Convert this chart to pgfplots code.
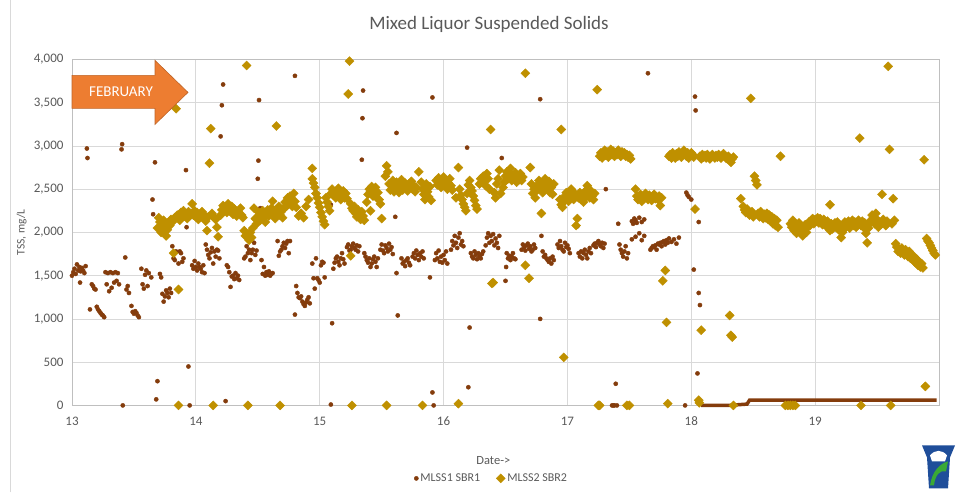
\documentclass[border=0pt]{standalone}
\usepackage{pgfplots}
\pgfplotsset{compat=1.18}
\usepackage{fontspec}
\setmainfont{Carlito}
\definecolor{sbrone}{HTML}{843C0C}
\definecolor{sbrtwo}{HTML}{BF9000}
\definecolor{txtgray}{HTML}{595959}
\definecolor{gridgray}{HTML}{D9D9D9}
\definecolor{framegray}{HTML}{BFBFBF}
\definecolor{arroworange}{HTML}{ED7D31}
\definecolor{logoblue}{HTML}{1F4E9A}
\definecolor{logogreen}{HTML}{3AA935}

\begin{document}
\begin{tikzpicture}[x=1pt,y=1pt]
\path (-72,-87) rectangle (888,405);
\draw[gridgray, line width=0.8pt] (-62,-87) -- (-62,405);
\begin{axis}[
    at={(0,0)}, anchor=south west,
    scale only axis,
    width=867pt, height=346pt,
    xmin=13, xmax=20, ymin=0, ymax=4000,
    xtick={13,...,19},
    ytick={0,500,...,4000},
    major tick length=0pt,
    grid=major,
    major grid style={gridgray, line width=0.8pt},
    axis line style={framegray, line width=0.8pt},
    clip=false,
    ticklabel style={font=\fontsize{13}{15}\selectfont, text=txtgray},
    /pgf/number format/.cd, 1000 sep={,}, assume math mode=true, /pgfplots/.cd,
    yticklabel style={xshift=-5pt},
    xticklabel style={yshift=-8pt},
    title={Mixed Liquor Suspended Solids},
    title style={font=\fontsize{19}{22}\selectfont, text=txtgray, at={(axis description cs:0.481,1)}, anchor=center, yshift=29pt},
    xlabel={Date->},
    xlabel style={font=\fontsize{12.5}{14}\selectfont, text=txtgray, at={(axis description cs:0.486,0)}, anchor=center, yshift=-55pt},
    ylabel={TSS, mg/L},
    ylabel style={font=\fontsize{11.5}{13}\selectfont, text=txtgray, at={(axis description cs:-0.058,0.5)}, anchor=center},
    legend columns=2,
    legend style={at={(axis description cs:0.484,0)}, anchor=center, yshift=-73pt, draw=none, fill=none,
        font=\fontsize{12}{14}\selectfont, text=txtgray,
        /tikz/every even column/.append style={column sep=14pt}},
]
\addplot[only marks, mark=*, mark size=2.1pt, color=sbrone] coordinates {
(13.00,1500)(13.01,1540)(13.02,1580)(13.03,1520)(13.04,1630)(13.05,1560)(13.06,1600)(13.065,1420)(13.07,1550)(13.08,1590)(13.09,1560)(13.10,1530)(13.11,1610)(13.12,2970)(13.125,2860)
(13.145,1110)(13.16,1400)(13.17,1380)(13.18,1350)(13.19,1340)
(13.2,1140)(13.21,1110)(13.22,1090)(13.23,1070)(13.24,1050)(13.25,1040)(13.26,1020)
(13.27,1540)(13.29,1530)(13.31,1540)(13.33,1530)(13.35,1540)(13.37,1530)
(13.28,1400)(13.30,1320)(13.32,1360)(13.34,1420)(13.36,1440)(13.38,1400)
(13.405,3020)(13.40,2960)(13.41,0)(13.43,1710)
(13.44,1340)(13.45,1380)(13.46,1300)
(13.48,1150)(13.49,1080)(13.50,1060)(13.51,1090)(13.52,1070)(13.53,1040)(13.54,1020)
(13.56,1580)(13.57,1400)(13.58,1350)(13.59,1510)(13.60,1560)(13.61,1380)(13.62,1530)(13.64,1480)
(13.65,2380)(13.655,2210)(13.67,2810)(13.68,70)(13.69,280)
(13.71,1520)(13.72,1480)(13.73,1290)(13.74,1200)(13.75,1260)(13.76,1330)(13.77,1300)(13.78,1250)(13.79,1350)(13.80,1300)
(13.81,1840)(13.82,1700)(13.83,1680)(13.84,1780)(13.86,1640)(13.87,1780)(13.88,1760)(13.89,1660)(13.90,1700)
(13.92,2720)(13.925,2060)(13.94,450)(13.95,0)
(13.97,1620)(13.98,1580)(13.99,1670)(14.00,1600)(14.01,1560)(14.02,1640)(14.03,1600)(14.04,1580)(14.05,1540)(14.06,1620)(14.07,1530)
(14.08,1860)(14.09,1800)(14.10,1740)(14.11,1700)(14.12,1770)(14.13,1820)(14.14,1640)(14.15,1780)(14.16,1720)(14.17,1800)(14.18,1790)(14.19,1700)
(14.20,3110)(14.21,3470)(14.22,3710)(14.24,50)
(14.25,1620)(14.26,1600)(14.27,1540)(14.28,1370)(14.29,1490)(14.30,1500)(14.31,1460)(14.32,1530)(14.33,1470)(14.34,1500)(14.35,1450)
(14.39,1700)(14.40,1720)(14.41,1840)(14.42,1760)(14.43,1800)(14.44,1680)(14.45,1760)(14.46,1800)(14.47,1880)(14.48,1740)(14.49,1790)
(14.51,3530)(14.505,2830)(14.50,2620)(14.52,2280)
(14.53,1680)(14.54,1520)(14.55,1600)(14.56,1500)(14.57,1540)(14.58,1510)(14.59,1550)(14.60,1500)(14.61,1520)(14.62,1530)
(14.66,1900)(14.67,1730)(14.68,1780)(14.69,1800)(14.70,1840)(14.71,1880)(14.72,1820)(14.73,1870)(14.74,1900)(14.75,1760)(14.76,1900)
(14.80,3810)(14.80,1050)
(14.81,1380)(14.82,1300)(14.83,1250)(14.84,1240)(14.85,1260)(14.86,1200)(14.87,1170)(14.88,1150)(14.89,1190)(14.90,1220)(14.91,1250)(14.92,1180)
(14.94,1640)(14.95,1470)(14.96,1350)(14.97,1700)(14.98,1470)(14.99,1450)(15.00,1420)(15.01,1620)(15.02,1660)(15.03,1650)(15.04,1480)
(15.09,2320)(15.09,10)(15.10,950)
(15.11,1580)(15.12,1650)(15.13,1700)(15.14,1720)(15.15,1660)(15.16,1620)(15.17,1700)(15.18,1760)(15.19,1690)(15.20,1640)
(15.22,1830)(15.23,1860)(15.24,1790)(15.25,1800)(15.26,1840)(15.27,1870)(15.28,1820)(15.29,1800)(15.30,1850)(15.31,1780)(15.32,1840)
(15.35,3640)(15.345,3320)(15.34,2840)
(15.36,1760)(15.37,1720)(15.38,1680)(15.39,1650)(15.40,1700)(15.41,1600)(15.42,1640)(15.43,1690)(15.44,1720)(15.45,1660)(15.46,1600)(15.47,1700)
(15.49,1800)(15.50,1860)(15.51,1790)(15.52,1760)(15.53,1850)(15.54,1820)(15.55,1780)(15.56,1870)(15.57,1800)(15.58,1830)(15.59,1750)
(15.61,2180)(15.62,3150)(15.62,1530)(15.63,1040)
(15.66,1700)(15.67,1640)(15.68,1660)(15.69,1610)(15.70,1680)(15.71,1700)(15.72,1650)(15.73,1620)
(15.75,1720)(15.76,1760)(15.77,1700)(15.78,1790)(15.79,1740)(15.80,1680)(15.81,1760)(15.82,1720)(15.83,1780)(15.84,1700)
(15.89,1480)(15.91,3560)(15.91,150)(15.92,0)
(15.93,1680)(15.94,1760)(15.95,1700)(15.96,1790)(15.97,1660)(15.98,1720)(15.99,1650)(16.00,1740)(16.01,1680)(16.02,1780)(16.03,1640)
(16.06,1800)(16.07,1900)(16.08,1850)(16.09,1960)(16.10,1880)(16.11,1820)(16.12,1940)(16.13,1990)(16.14,1860)(16.15,1900)(16.16,1840)
(16.19,2980)(16.20,210)(16.21,900)
(16.22,1760)(16.23,1720)(16.24,1700)(16.25,1780)(16.26,1740)(16.27,1690)(16.28,1760)(16.29,1720)(16.30,1700)(16.31,1750)(16.32,1780)
(16.34,1850)(16.35,1940)(16.36,1990)(16.37,1880)(16.38,1960)(16.39,1900)(16.40,1980)(16.41,1850)(16.42,1930)(16.43,1880)(16.44,1820)(16.45,1960)
(16.47,2860)(16.50,1440)(16.505,1600)
(16.51,1760)(16.52,1700)(16.53,1730)(16.54,1680)(16.55,1720)(16.56,1760)(16.57,1700)(16.58,1690)
(16.63,1800)(16.64,1860)(16.65,1830)(16.66,1790)(16.67,1850)(16.68,1870)(16.69,1810)(16.70,1840)(16.71,1780)(16.72,1800)(16.73,1860)(16.74,1820)
(16.78,3540)(16.78,1000)(16.79,1960)
(16.80,1780)(16.81,1720)(16.82,1740)(16.83,1700)(16.84,1680)(16.85,1660)(16.86,1700)(16.87,1640)(16.88,1720)(16.89,1680)
(16.92,1860)(16.93,1820)(16.94,1900)(16.95,1840)(16.96,1800)(16.97,1780)(16.98,1880)(16.99,1830)(17.00,1850)(17.01,1810)(17.02,1760)
(17.08,2070)
(17.09,1760)(17.10,1720)(17.11,1780)(17.12,1700)(17.13,1760)(17.14,1800)(17.15,1740)(17.16,1700)(17.17,1780)(17.18,1820)(17.19,1760)
(17.21,1850)(17.22,1870)(17.23,1830)(17.24,1880)(17.25,1900)(17.26,1860)(17.27,1840)(17.28,1880)(17.29,1820)(17.30,1870)
(17.31,2500)(17.36,0)(17.37,0)(17.38,0)(17.39,250)(17.40,0)(17.41,2100)
(17.42,1860)(17.43,1800)(17.44,1760)(17.45,1720)(17.46,1780)(17.47,1840)(17.48,1700)(17.49,1760)
(17.52,2130)(17.53,2100)(17.54,2160)(17.55,2140)(17.56,2110)(17.58,2170)(17.60,2120)(17.62,2150)
(17.52,1920)(17.55,1950)(17.58,1990)(17.60,1910)(17.62,1960)
(17.65,3840)
(17.67,1800)(17.68,1820)(17.69,1840)(17.70,1830)(17.71,1850)(17.72,1800)(17.73,1870)(17.74,1860)(17.75,1880)(17.76,1840)(17.77,1890)(17.78,1900)(17.79,1860)(17.80,1910)(17.81,1880)(17.82,1930)(17.84,1890)(17.86,1920)(17.88,1870)(17.90,1940)
(17.95,0)(17.96,2460)(17.97,2430)(17.98,2410)(18.00,2380)
(18.02,1570)(18.03,3570)(18.035,3410)(18.05,370)(18.06,2120)(18.06,1300)(18.07,1160)
};
\addlegendentry{MLSS1 SBR1}
\addplot[forget plot, sbrone, line width=3.5pt] coordinates {
(18.08,0)(18.30,0)(18.38,8)(18.45,15)(18.47,60)(19.98,60)
};
\addplot[only marks, mark=square*, mark size=3.2pt, mark options={rotate=45}, color=sbrtwo] coordinates {
(13.69,2050)(13.70,2170)(13.71,2120)(13.72,2000)(13.73,2080)(13.74,2140)(13.75,2060)(13.76,1960)(13.77,2030)(13.78,2100)(13.79,2080)(13.80,2150)(13.81,2120)
(13.82,1760)(13.84,3430)(13.86,1340)(13.86,0)
(13.83,2170)(13.85,2200)(13.87,2140)(13.88,2230)(13.89,2180)(13.90,2250)(13.91,2190)(13.92,2210)(13.93,2160)(13.94,2240)(13.95,2190)(13.96,2220)(13.97,2330)(13.98,2200)(13.99,2250)(14.00,2180)(14.01,2230)(14.02,2150)(14.03,2210)(14.04,2190)(14.05,2240)(14.06,2170)(14.07,2200)(14.08,2130)(14.09,2020)(14.10,2180)(14.11,2800)(14.12,3200)(14.13,2220)(14.14,0)(14.15,2170)(14.16,2150)(14.17,2060)(14.18,1950)
(14.20,2200)(14.21,2260)(14.22,2310)(14.23,2250)(14.24,2290)(14.25,2230)(14.26,2330)(14.27,2280)(14.28,2240)(14.29,2300)(14.30,2210)(14.31,2270)(14.32,2250)(14.33,2190)(14.34,2240)(14.35,2220)(14.36,2280)(14.37,2200)(14.38,2170)
(14.39,2020)(14.40,1960)(14.41,3930)(14.42,0)(14.43,1910)(14.44,2000)(14.45,1940)(14.46,2050)(14.47,2280)(14.48,2160)(14.49,2100)(14.50,2180)(14.51,2230)(14.52,2140)(14.53,2200)(14.54,2250)(14.55,2170)(14.56,2120)(14.57,2210)(14.58,2260)(14.59,2190)(14.60,2230)(14.61,2280)(14.62,2360)(14.63,2220)(14.64,2160)(14.65,3230)(14.66,2250)(14.67,2300)(14.68,0)(14.68,2200)(14.69,2240)(14.70,2170)(14.71,2280)
(14.72,2350)(14.73,2300)(14.74,2400)(14.75,2330)(14.76,2420)(14.77,2380)(14.78,2300)(14.79,2450)(14.80,2360)(14.81,2290)
(14.83,2190)(14.85,2220)(14.87,2170)(14.89,2300)(14.91,2380)
(14.94,2740)(14.94,2620)(14.95,2570)(14.96,2520)(14.97,2450)(14.98,2400)(14.99,2340)(15.00,2290)(15.01,2230)(15.02,2180)(15.03,2130)(15.04,2090)(15.05,2400)(15.06,2350)(15.07,2300)(15.08,2250)
(15.09,2450)(15.10,2500)(15.11,2430)(15.12,2470)(15.13,2400)(15.14,2440)(15.15,2510)(15.16,2460)(15.17,2380)(15.18,2420)(15.19,2480)(15.20,2400)(15.21,2450)(15.22,2390)(15.23,3600)(15.24,3980)(15.25,1730)(15.26,0)
(15.25,2330)(15.26,2280)(15.27,2250)(15.28,2300)(15.29,2220)(15.30,2180)(15.31,2260)(15.32,2200)(15.33,2150)(15.34,2240)(15.35,2190)(15.36,2140)
(15.38,2350)(15.39,2440)(15.40,2500)(15.41,2470)(15.42,2530)(15.43,2420)(15.44,2480)(15.45,2520)(15.46,2400)(15.47,2460)(15.48,2380)(15.49,2330)(15.50,2160)(15.41,2250)
(15.53,2650)(15.54,2770)(15.55,2700)(15.56,2560)(15.57,2490)(15.58,2540)(15.59,2600)(15.60,2470)(15.61,2520)(15.62,2580)(15.63,2500)(15.64,2460)(15.65,2550)(15.66,2610)(15.67,2490)(15.68,2530)(15.69,2570)(15.70,2510)(15.71,2480)(15.72,2560)(15.73,2520)(15.74,2590)(15.75,2500)(15.76,2540)(15.77,2470)(15.78,2520)(15.54,0)
(15.80,2700)(15.82,2580)(15.83,2500)(15.84,2440)(15.85,2380)(15.86,2560)(15.87,2470)(15.88,2410)(15.89,2530)(15.90,2370)(15.83,0)
(15.94,2600)(15.95,2550)(15.96,2630)(15.97,2580)(15.98,2520)(15.99,2600)(16.00,2640)(16.01,2550)(16.02,2590)(16.03,2500)(16.04,2570)(16.05,2620)(16.06,2540)(16.07,2490)
(16.10,2400)(16.12,2750)(16.12,20)(16.13,2500)(16.14,2430)(16.15,2380)(16.16,2330)(16.17,2290)(16.18,2250)(16.19,2450)(16.20,2550)(16.21,2600)(16.22,2520)(16.23,2480)(16.24,2420)(16.25,2370)(16.26,2310)(16.27,2270)
(16.29,2560)(16.30,2620)(16.31,2580)(16.32,2650)(16.33,2600)(16.34,2540)(16.35,2680)(16.36,2620)(16.37,2500)(16.38,3190)(16.39,1410)(16.40,1420)(16.41,2460)(16.42,2400)(16.43,2560)(16.44,2620)(16.45,2720)(16.46,2450)
(16.48,2520)(16.49,2580)(16.50,2650)(16.51,2700)(16.52,2620)(16.53,2680)(16.54,2740)(16.55,2600)(16.56,2660)(16.57,2630)(16.58,2690)(16.59,2580)(16.60,2650)(16.61,2610)(16.62,2680)(16.63,2600)(16.64,2640)(16.66,3840)(16.66,1620)(16.69,1470)(16.70,2750)
(16.71,2560)(16.72,2450)(16.73,2500)(16.74,2400)(16.75,2480)(16.76,2550)(16.77,2600)(16.78,2520)(16.79,2220)(16.80,2460)(16.81,2580)(16.82,2620)(16.83,2540)(16.84,2500)(16.85,2590)(16.86,2460)(16.87,2520)(16.88,2440)(16.89,2560)
(16.95,3190)(16.97,555)
(16.94,2380)(16.95,2320)(16.96,2290)(16.97,2350)(16.98,2420)(16.99,2460)(17.00,2400)(17.01,2360)(17.02,2440)(17.03,2500)(17.04,2420)(17.05,2380)(17.06,2450)(17.07,2080)(17.08,2160)(17.09,2400)(17.10,2460)(17.11,2380)(17.12,2430)(17.13,2350)(17.14,2470)(17.15,2410)(17.16,2540)(17.17,2450)(17.18,2400)(17.19,2480)(17.20,2420)(17.21,2380)(17.22,2450)
(17.24,3650)(17.25,0)(17.26,0)
(17.26,2880)(17.27,2920)(17.28,2860)(17.29,2900)(17.30,2950)(17.31,2890)(17.32,2930)(17.33,2870)(17.34,2910)(17.35,2960)(17.36,2900)(17.37,2940)(17.38,2880)(17.39,2920)(17.40,2900)(17.41,2950)(17.42,2910)(17.43,2880)(17.44,2930)(17.45,2900)(17.46,2920)(17.47,2880)(17.48,2900)(17.49,2870)(17.50,2890)(17.51,2850)(17.48,0)(17.50,0)
(17.55,2500)(17.56,2420)(17.57,2380)(17.58,2400)(17.59,2440)(17.60,2360)(17.61,2420)(17.62,2390)(17.63,2450)(17.64,2410)(17.65,2380)(17.66,2430)(17.67,2400)(17.68,2370)(17.69,2420)(17.70,2440)(17.71,2390)(17.72,2410)(17.73,2380)(17.74,2420)(17.75,2310)(17.76,2400)
(17.77,1440)(17.79,1560)(17.80,960)(17.81,20)
(17.82,2880)(17.83,2900)(17.84,2860)(17.85,2920)(17.86,2890)(17.87,2860)(17.88,2910)(17.89,2880)(17.90,2930)(17.91,2900)(17.92,2870)(17.93,2920)(17.94,2950)(17.95,2910)(17.96,2880)(17.97,2920)(17.98,2860)(17.99,2890)(18.00,2920)(18.01,2900)(18.02,2870)(18.03,2270)
(18.06,60)(18.065,30)(18.08,870)
(18.07,2880)(18.08,2850)(18.09,2900)(18.10,2870)(18.11,2890)(18.12,2860)(18.13,2900)(18.14,2880)(18.15,2850)(18.16,2870)(18.17,2900)(18.18,2880)(18.19,2860)(18.20,2890)(18.21,2870)(18.22,2900)(18.23,2880)(18.24,2860)(18.25,2890)(18.26,2910)(18.27,2880)(18.28,2860)(18.29,2850)(18.30,2880)(18.31,2830)(18.32,2810)(18.33,2850)(18.34,2870)
(18.31,1040)(18.32,810)(18.33,790)(18.34,0)
(18.40,2390)(18.42,2300)(18.43,2260)(18.44,2230)(18.45,2270)(18.46,2220)(18.47,2200)(18.48,3550)(18.49,2240)(18.50,2180)(18.51,2650)(18.52,2600)(18.53,2550)(18.54,2220)(18.55,2180)(18.56,2240)(18.57,2190)(18.58,2160)(18.59,2210)(18.60,2170)(18.61,2220)(18.62,2150)(18.63,2200)(18.64,2130)(18.65,2180)(18.66,2100)(18.67,2160)(18.68,2080)(18.69,2140)(18.70,2060)(18.72,2880)
(18.76,0)(18.78,0)(18.80,0)(18.82,0)(18.84,0)
(18.80,2100)(18.81,2060)(18.82,2140)(18.83,2020)(18.84,2080)(18.85,1990)(18.86,2050)(18.87,2110)(18.88,2000)(18.89,2060)(18.90,1960)(18.91,2030)(18.92,2090)(18.93,2000)(18.94,2060)(18.95,2120)(18.96,2080)
(18.97,2140)(18.98,2160)(18.99,2100)(19.00,2150)(19.01,2130)(19.02,2170)(19.03,2110)(19.04,2160)(19.05,2140)(19.06,2090)(19.07,2150)(19.08,2120)(19.09,2070)(19.10,2130)(19.11,2060)(19.12,2320)(19.12,2020)(19.13,2100)(19.14,2040)(19.15,2090)(19.16,2110)(19.17,2060)(19.18,2120)(19.19,2030)(19.20,2080)(19.21,1940)(19.22,2000)(19.23,2070)(19.24,2120)(19.25,2060)(19.26,2090)(19.27,2130)(19.28,2050)(19.29,2100)(19.30,2140)(19.31,2080)(19.32,2120)(19.33,2060)(19.34,2100)(19.35,2140)(19.36,3090)(19.37,0)(19.37,2080)(19.38,2130)(19.39,2060)(19.40,2110)(19.41,1990)(19.42,1880)(19.43,2050)(19.44,2100)(19.45,2140)(19.46,2200)(19.47,2170)(19.48,2100)(19.49,2220)(19.50,2150)(19.51,2060)(19.52,2120)(19.53,2090)(19.54,2440)(19.55,2150)(19.56,2110)(19.57,2080)(19.58,2130)(19.59,3920)(19.60,2960)(19.61,0)(19.62,2100)(19.63,2390)(19.64,2140)
(19.65,1870)(19.66,1830)(19.67,1780)(19.68,1800)(19.69,1760)(19.70,1820)(19.71,1780)(19.72,1740)(19.73,1800)(19.74,1760)(19.75,1720)(19.76,1780)(19.77,1700)(19.78,1740)(19.79,1680)(19.80,1720)(19.81,1650)(19.82,1690)(19.83,1620)(19.84,1660)(19.85,1600)(19.86,1640)(19.87,1590)(19.88,2840)(19.89,220)(19.90,1930)(19.91,1900)(19.92,1880)(19.93,1850)(19.94,1820)(19.95,1790)(19.96,1760)(19.97,1740)
};
\addlegendentry{MLSS2 SBR2}
\end{axis}
% FEBRUARY arrow
\fill[arroworange, draw=arroworange!80!black, line width=0.6pt]
  (0,330) -- (83,330) -- (83,345) -- (116,313) -- (83,281) -- (83,297) -- (0,297) -- cycle;
\node[text=white, font=\fontsize{15}{17}\selectfont] at (49,313.5) {FEBRUARY};
% logo
\fill[logoblue] (850,-40) -- (883,-40) -- (878,-52) -- (876,-83) -- (857,-83) -- (855,-52) -- cycle;
\fill[white] (858,-50) .. controls (863,-44) and (870,-44) .. (875,-50) -- (873,-56) -- (860,-56) -- cycle;
\fill[logogreen] (858,-80) .. controls (860,-66) and (868,-58) .. (876,-56) -- (874,-66) .. controls (868,-64) and (863,-70) .. (862,-80) -- cycle;
\end{tikzpicture}
\end{document}
